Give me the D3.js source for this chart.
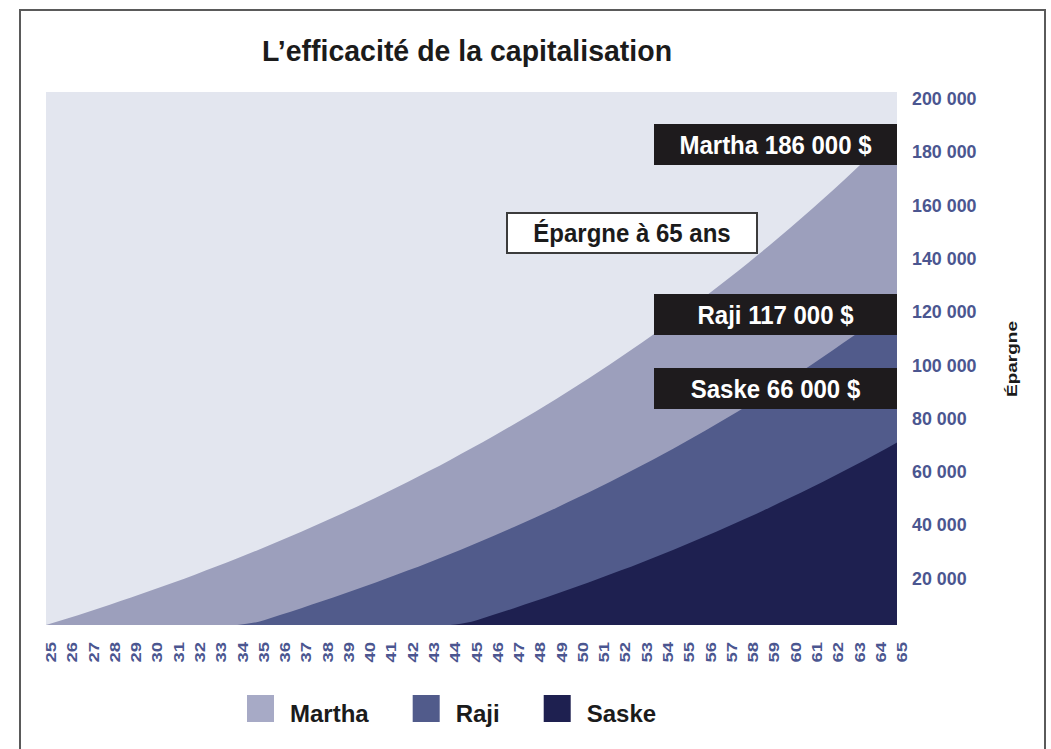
<!DOCTYPE html>
<html>
<head>
<meta charset="utf-8">
<script src="https://cdn.jsdelivr.net/npm/d3@7"></script>
<style>
  body { margin: 0; background: #fff; }
  text { font-family: "Liberation Sans", Arial, sans-serif; font-weight: bold; }
</style>
</head>
<body>
<div id="chart"></div>
<script>
const width = 1051;
const height = 749;

// ages on the x axis
const ages = [25, 26, 27, 28, 29, 30, 31, 32, 33, 34, 35, 36, 37, 38, 39, 40, 41, 42, 43, 44, 45,
    46, 47, 48, 49, 50, 51, 52, 53, 54, 55, 56, 57, 58, 59, 60, 61, 62, 63, 64, 65];

// savings (null = not saving yet)
const martha = [0, 2470, 5010, 7630, 10320, 13100, 15960, 18900, 21940, 25060, 28280, 31600, 35010,
    38530, 42150, 45880, 49730, 53690, 57760, 61960, 66290, 70750, 75330, 80060, 84930, 89940, 95110,
    100430, 105910, 111550, 117370, 123360, 129520, 135880, 142420, 149160, 156100, 163250, 170620,
    178200, 186000];
const raji = [null, null, null, null, null, null, null, null, null, 0, 1220, 3730, 6310, 8960, 11700,
    14520, 17420, 20410, 23490, 26660, 29930, 33290, 36750, 40330, 44010, 47800, 51690, 55700, 59840,
    64110, 68500, 73030, 77680, 82480, 87420, 92500, 97750, 103150, 108710, 113800, 119200];
const saske = [null, null, null, null, null, null, null, null, null, null, null, null, null, null, null,
    null, null, null, null, 0, 1220, 3730, 6310, 8960, 11700, 14520, 17420, 20410, 23490, 26660, 29930,
    33290, 36750, 40330, 44010, 47800, 51690, 55700, 59840, 64110, 68500];

const seriesNames = ['Martha', 'Raji', 'Saske'];
const seriesColors = ['#9c9fbc', '#515b8b', '#1e2050'];
const legendColors = ['#a7aac6', '#515b8b', '#1e2050'];

const yTicks = [20000, 40000, 60000, 80000, 100000, 120000, 140000, 160000, 180000, 200000];

const endLabels = ['Martha 186 000 $', 'Raji 117 000 $', 'Saske 66 000 $'];

const plot = { left: 46, right: 897, top: 92, bottom: 625 };

const xScale = d3.scaleLinear().domain([25, 65]).range([plot.left, plot.right]);
const yScale = d3.scaleLinear().domain([0, 200000]).range([plot.bottom, plot.top]);

const fr = d3.formatLocale({ decimal: ',', thousands: '\u00a0', grouping: [3], currency: ['', ' $'] });
const fmt = fr.format(',d');

let svg = d3.select('#chart')
    .append('svg')
    .attr('width', width)
    .attr('height', height);

// outer frame
svg.append('rect')
    .attr('x', 20)
    .attr('y', 10)
    .attr('width', 1025)
    .attr('height', 770)
    .attr('fill', 'none')
    .attr('stroke', '#5a5a5a')
    .attr('stroke-width', 2);

svg.append('text')
    .attr('transform', 'translate(467, 61) scale(0.95, 1)')
    .attr('text-anchor', 'middle')
    .style('font-size', '30px')
    .attr('fill', '#1b1b1b')
    .text('L\u2019efficacit\u00e9 de la capitalisation');

// plot background
svg.append('rect')
    .attr('x', plot.left)
    .attr('y', plot.top)
    .attr('width', plot.right - plot.left)
    .attr('height', plot.bottom - plot.top)
    .attr('fill', '#e3e6ef');

const seriesData = [martha, raji, saske];

const area = d3.area()
    .defined((d) => d.v !== null)
    .x((d) => xScale(d.age))
    .y0(yScale(0))
    .y1((d) => yScale(d.v))
    .curve(d3.curveMonotoneX);

svg.append('g')
    .selectAll('path')
    .data(seriesData)
    .enter()
    .append('path')
    .attr('fill', (d, i) => seriesColors[i])
    .attr('d', (d) => area(d.map((v, i) => ({ age: ages[i], v: v }))));

// y axis on the right
svg.append('g')
    .attr('transform', `translate(${plot.right}, 0)`)
    .call(d3.axisRight(yScale).tickValues(yTicks).tickSize(0).tickPadding(15).tickFormat(fmt))
    .call((g) => g.select('.domain').remove())
    .selectAll('text')
    .attr('x', 0)
    .attr('transform', 'translate(15, 6.5) scale(0.94, 1)')
    .attr('fill', '#4b5690')
    .style('font-size', '19px')
    .style('font-family', '"Liberation Sans", Arial, sans-serif')
    .style('font-weight', 'bold');

svg.append('text')
    .attr('transform', 'translate(1012, 359) rotate(-90) scale(1, 0.75)')
    .attr('text-anchor', 'middle')
    .attr('dy', '0.35em')
    .style('font-size', '19px')
    .attr('fill', '#1b1b1b')
    .text('\u00c9pargne');

// x axis, labels turned upright
svg.append('g')
    .attr('transform', `translate(0, ${plot.bottom})`)
    .call(d3.axisBottom(xScale).tickValues(ages).tickSize(0).tickFormat(d3.format('d')))
    .call((g) => g.select('.domain').remove())
    .selectAll('text')
    .attr('x', 0)
    .attr('y', 0)
    .attr('dy', '0.35em')
    .attr('text-anchor', 'end')
    .attr('transform', 'translate(4.5, 17) rotate(-90) scale(1, 0.78)')
    .attr('fill', '#4b5690')
    .style('font-size', '18.5px')
    .style('font-family', '"Liberation Sans", Arial, sans-serif')
    .style('font-weight', 'bold');

// end value boxes
const boxTops = [124, 294, 368];
const boxLeft = 654;
const boxHeight = 41;

let boxes = svg.append('g')
    .selectAll('g')
    .data(endLabels)
    .enter()
    .append('g')
    .attr('transform', (d, i) => `translate(${boxLeft}, ${boxTops[i]})`);

boxes.append('rect')
    .attr('width', plot.right - boxLeft)
    .attr('height', boxHeight)
    .attr('fill', '#1e1b1d');

boxes.append('text')
    .attr('transform', `translate(${(plot.right - boxLeft) / 2}, ${boxHeight / 2}) scale(0.96, 1)`)
    .attr('dy', '0.36em')
    .attr('text-anchor', 'middle')
    .attr('fill', '#ffffff')
    .style('font-size', '25px')
    .text((d) => d);

// "Épargne à 65 ans" note
let note = svg.append('g').attr('transform', 'translate(507, 213)');
note.append('rect')
    .attr('width', 250)
    .attr('height', 40)
    .attr('fill', '#ffffff')
    .attr('stroke', '#3c3c3c')
    .attr('stroke-width', 2);
note.append('text')
    .attr('transform', 'translate(125, 20) scale(0.96, 1)')
    .attr('dy', '0.36em')
    .attr('text-anchor', 'middle')
    .attr('fill', '#1b1b1b')
    .style('font-size', '25px')
    .text('\u00c9pargne \u00e0 65 ans');

// legend
let legendX = 247;
seriesNames.forEach((name, i) => {
    svg.append('rect')
        .attr('x', legendX)
        .attr('y', 695)
        .attr('width', 27)
        .attr('height', 27)
        .attr('fill', legendColors[i]);
    let t = svg.append('text')
        .attr('x', legendX + 43)
        .attr('y', 722)
        .attr('fill', '#1b1b1b')
        .style('font-size', '24px')
        .text(name);
    legendX += 43 + t.node().getComputedTextLength() + 44;
});
</script>
</body>
</html>
